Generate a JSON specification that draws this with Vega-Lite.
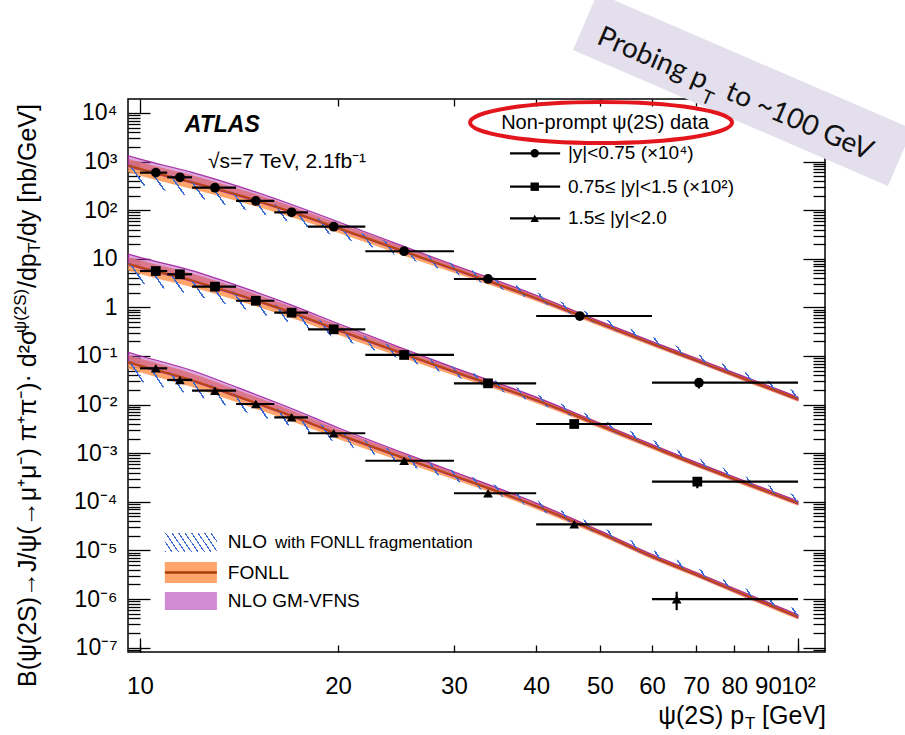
{
"$schema":"https://vega.github.io/schema/vega-lite/v6.json",
"width":697,"height":553,
"autosize":{"type":"none"},
"padding":{"left":128,"top":99,"right":80,"bottom":83},
"background":"white",
"config":{"view":{"stroke":"#000","strokeWidth":1.5},"axis":{"grid":false,"domain":false,"tickColor":"#000","tickWidth":1.3,"labelColor":"#000","labelFont":"Liberation Sans","labelOverlap":false,"labelFlush":false,"labelBound":false},"text":{"font":"Liberation Sans","color":"#000"}},
"resolve":{"axis":{"x":"independent","y":"independent"}},
"datasets":{
"theory":[
{"s":1,"pt":9.6,"c":830,"flo":601,"fhi":1145,"nlo":379,"nhi":889,"glo":793,"ghi":1316},
{"s":1,"pt":10,"c":710,"flo":514,"fhi":980,"nlo":332,"nhi":761,"glo":678,"ghi":1125},
{"s":1,"pt":12,"c":378,"flo":274,"fhi":522,"nlo":189.5,"nhi":405,"glo":361,"ghi":599},
{"s":1,"pt":14,"c":212,"flo":157,"fhi":286,"nlo":113.8,"nhi":227,"glo":202,"ghi":321},
{"s":1,"pt":17,"c":92.8,"flo":71.2,"fhi":120.9,"nlo":55.9,"nhi":102.9,"glo":88.6,"ghi":131.1},
{"s":1,"pt":20,"c":43,"flo":34.2,"fhi":54.1,"nlo":28.4,"nhi":49.4,"glo":41.1,"ghi":58.0},
{"s":1,"pt":25,"c":14.8,"flo":12.03,"fhi":18.2,"nlo":10.97,"nhi":17.8,"glo":14.13,"ghi":18.63},
{"s":1,"pt":30,"c":6.2,"flo":5.16,"fhi":7.45,"nlo":4.92,"nhi":7.81,"glo":5.92,"ghi":7.45},
{"s":1,"pt":40,"c":1.55,"flo":1.335,"fhi":1.8,"nlo":1.35,"nhi":2.04,"glo":1.48,"ghi":1.78},
{"s":1,"pt":50,"c":0.47,"flo":0.409,"fhi":0.54,"nlo":0.429,"nhi":0.634,"glo":0.449,"ghi":0.515},
{"s":1,"pt":60,"c":0.18,"flo":0.1586,"fhi":0.2043,"nlo":0.168,"nhi":0.2484,"glo":0.1719,"ghi":0.1974},
{"s":1,"pt":70,"c":0.082,"flo":0.0722,"fhi":0.0931,"nlo":0.0765,"nhi":0.1132,"glo":0.0783,"ghi":0.0899},
{"s":1,"pt":80,"c":0.041,"flo":0.0361,"fhi":0.0465,"nlo":0.0392,"nhi":0.0566,"glo":0.0392,"ghi":0.045},
{"s":1,"pt":100,"c":0.013,"flo":0.01145,"fhi":0.01476,"nlo":0.01242,"nhi":0.01794,"glo":0.01242,"ghi":0.01425},
{"s":2,"pt":9.6,"c":7.9,"flo":5.72,"fhi":10.9,"nlo":3.61,"nhi":8.46,"glo":7.54,"ghi":12.52},
{"s":2,"pt":10,"c":6.75,"flo":4.89,"fhi":9.32,"nlo":3.16,"nhi":7.23,"glo":6.45,"ghi":10.7},
{"s":2,"pt":12,"c":3.6,"flo":2.61,"fhi":4.97,"nlo":1.804,"nhi":3.86,"glo":3.44,"ghi":5.71},
{"s":2,"pt":14,"c":1.9,"flo":1.408,"fhi":2.563,"nlo":1.02,"nhi":2.036,"glo":1.815,"ghi":2.877},
{"s":2,"pt":17,"c":0.79,"flo":0.606,"fhi":1.029,"nlo":0.476,"nhi":0.876,"glo":0.754,"ghi":1.116},
{"s":2,"pt":20,"c":0.345,"flo":0.274,"fhi":0.434,"nlo":0.228,"nhi":0.396,"glo":0.329,"ghi":0.465},
{"s":2,"pt":25,"c":0.115,"flo":0.0935,"fhi":0.1415,"nlo":0.0853,"nhi":0.1382,"glo":0.1098,"ghi":0.1448},
{"s":2,"pt":30,"c":0.048,"flo":0.0399,"fhi":0.0577,"nlo":0.0381,"nhi":0.0604,"glo":0.0458,"ghi":0.0577},
{"s":2,"pt":40,"c":0.0124,"flo":0.01068,"fhi":0.0144,"nlo":0.0108,"nhi":0.01634,"glo":0.01184,"ghi":0.01424},
{"s":2,"pt":50,"c":0.00376,"flo":0.003275,"fhi":0.004316,"nlo":0.003429,"nhi":0.005072,"glo":0.003591,"ghi":0.004123},
{"s":2,"pt":60,"c":0.00137,"flo":0.001207,"fhi":0.001555,"nlo":0.001279,"nhi":0.001891,"glo":0.001308,"ghi":0.001502},
{"s":2,"pt":70,"c":0.00059,"flo":0.00052,"fhi":0.00067,"nlo":0.000551,"nhi":0.000814,"glo":0.000563,"ghi":0.000647},
{"s":2,"pt":80,"c":0.000295,"flo":0.00026,"fhi":0.000335,"nlo":0.000282,"nhi":0.000407,"glo":0.000282,"ghi":0.000323},
{"s":2,"pt":100,"c":0.000094,"flo":0.0000828,"fhi":0.0001067,"nlo":0.0000898,"nhi":0.0001297,"glo":0.0000898,"ghi":0.0001031},
{"s":3,"pt":9.6,"c":0.075,"flo":0.0543,"fhi":0.1035,"nlo":0.0343,"nhi":0.0804,"glo":0.0716,"ghi":0.1189},
{"s":3,"pt":10,"c":0.064,"flo":0.0464,"fhi":0.0883,"nlo":0.0299,"nhi":0.0686,"glo":0.0611,"ghi":0.1014},
{"s":3,"pt":12,"c":0.0317,"flo":0.02296,"fhi":0.04375,"nlo":0.01589,"nhi":0.03397,"glo":0.03027,"ghi":0.05024},
{"s":3,"pt":14,"c":0.0152,"flo":0.01127,"fhi":0.0205,"nlo":0.00816,"nhi":0.01629,"glo":0.01452,"ghi":0.02301},
{"s":3,"pt":17,"c":0.00589,"flo":0.00452,"fhi":0.007675,"nlo":0.00355,"nhi":0.00653,"glo":0.005625,"ghi":0.008323},
{"s":3,"pt":20,"c":0.00248,"flo":0.00197,"fhi":0.003122,"nlo":0.001639,"nhi":0.002847,"glo":0.002368,"ghi":0.003346},
{"s":3,"pt":25,"c":0.00083,"flo":0.000675,"fhi":0.001021,"nlo":0.000615,"nhi":0.000998,"glo":0.000793,"ghi":0.001045},
{"s":3,"pt":30,"c":0.000346,"flo":0.0002878,"fhi":0.0004159,"nlo":0.0002748,"nhi":0.0004356,"glo":0.0003304,"ghi":0.0004159},
{"s":3,"pt":40,"c":0.000082,"flo":0.0000706,"fhi":0.0000952,"nlo":0.0000714,"nhi":0.0001081,"glo":0.0000783,"ghi":0.0000941},
{"s":3,"pt":50,"c":0.000023,"flo":0.00002003,"fhi":0.0000264,"nlo":0.00002098,"nhi":0.00003103,"glo":0.00002197,"ghi":0.00002522},
{"s":3,"pt":60,"c":7.5e-6,"flo":6.61e-6,"fhi":8.51e-6,"nlo":7.0e-6,"nhi":1.035e-5,"glo":7.16e-6,"ghi":8.22e-6},
{"s":3,"pt":70,"c":3.2e-6,"flo":2.82e-6,"fhi":3.63e-6,"nlo":2.99e-6,"nhi":4.42e-6,"glo":3.06e-6,"ghi":3.51e-6},
{"s":3,"pt":80,"c":1.5e-6,"flo":1.32e-6,"fhi":1.7e-6,"nlo":1.43e-6,"nhi":2.07e-6,"glo":1.43e-6,"ghi":1.645e-6},
{"s":3,"pt":100,"c":4.3e-7,"flo":3.79e-7,"fhi":4.88e-7,"nlo":4.11e-7,"nhi":5.93e-7,"glo":4.11e-7,"ghi":4.71e-7}
],
"pts":[
{"s":1,"pt":10.57,"y":592,"xlo":10,"xhi":11},
{"s":1,"pt":11.5,"y":475,"xlo":11,"xhi":12},
{"s":1,"pt":13.0,"y":290,"xlo":12,"xhi":14},
{"s":1,"pt":15.0,"y":155,"xlo":14,"xhi":16},
{"s":1,"pt":17.0,"y":90.5,"xlo":16,"xhi":18},
{"s":1,"pt":19.7,"y":45.7,"xlo":18,"xhi":22},
{"s":1,"pt":25.2,"y":14.3,"xlo":22,"xhi":30},
{"s":1,"pt":33.8,"y":3.84,"xlo":30,"xhi":40},
{"s":1,"pt":46.6,"y":0.665,"xlo":40,"xhi":60},
{"s":1,"pt":70.7,"y":0.0282,"xlo":60,"xhi":100,"ylo":0.0214,"yhi":0.031},
{"s":2,"pt":10.57,"y":5.6,"xlo":10,"xhi":11},
{"s":2,"pt":11.5,"y":4.8,"xlo":11,"xhi":12},
{"s":2,"pt":13.0,"y":2.67,"xlo":12,"xhi":14},
{"s":2,"pt":15.0,"y":1.37,"xlo":14,"xhi":16},
{"s":2,"pt":17.0,"y":0.778,"xlo":16,"xhi":18},
{"s":2,"pt":19.7,"y":0.354,"xlo":18,"xhi":22},
{"s":2,"pt":25.2,"y":0.105,"xlo":22,"xhi":30},
{"s":2,"pt":33.8,"y":0.0274,"xlo":30,"xhi":40},
{"s":2,"pt":45.7,"y":0.00399,"xlo":40,"xhi":60},
{"s":2,"pt":70.3,"y":0.00026,"xlo":60,"xhi":100,"ylo":0.00019,"yhi":0.00029},
{"s":3,"pt":10.57,"y":0.0558,"xlo":10,"xhi":11},
{"s":3,"pt":11.5,"y":0.0321,"xlo":11,"xhi":12},
{"s":3,"pt":13.0,"y":0.0193,"xlo":12,"xhi":14},
{"s":3,"pt":15.0,"y":0.01028,"xlo":14,"xhi":16},
{"s":3,"pt":17.0,"y":0.00548,"xlo":16,"xhi":18},
{"s":3,"pt":19.7,"y":0.00257,"xlo":18,"xhi":22},
{"s":3,"pt":25.2,"y":0.0007,"xlo":22,"xhi":30},
{"s":3,"pt":33.8,"y":0.00015,"xlo":30,"xhi":40},
{"s":3,"pt":45.7,"y":0.0000344,"xlo":40,"xhi":60},
{"s":3,"pt":65.4,"y":9.9e-7,"xlo":60,"xhi":100,"ylo":5.9e-7,"yhi":1.41e-6}
],
"leg":[
{"s":1,"x1":36.5,"x2":43.5,"xm":39.8,"y":1482,"xt":44.7,"t":"|y|<0.75 (×10⁴)"},
{"s":2,"x1":36.5,"x2":43.5,"xm":39.8,"y":304.4,"xt":44.7,"t":"0.75≤ |y|<1.5 (×10²)"},
{"s":3,"x1":36.5,"x2":43.5,"xm":39.8,"y":68.1,"xt":44.7,"t":"1.5≤ |y|<2.0"}
]
},
"layer":[
{"data":{"name":"theory"},
 "mark":{"type":"area","interpolate":"monotone","fill":"#ff9a5a","fillOpacity":0.9},
 "encoding":{
  "x":{"field":"pt","type":"quantitative","scale":{"type":"log","domain":[9.59,109.9],"nice":false},"axis":{"orient":"bottom","values":[10,20,30,40,50,60,70,80,90,100],"tickSize":-7,"labelFontSize":24,"labelPadding":29,"labelExpr":"datum.value == 100 ? '10²' : '' + datum.value","title":null}},
  "y":{"field":"flo","type":"quantitative","scale":{"type":"log","domain":[8.12e-8,19400],"nice":false},"axis":{"orient":"left","values":[1e-7,0.000001,0.00001,0.0001,0.001,0.01,0.1,1,10,100,1000,10000],"tickSize":-22,"labelFontSize":23,"labelPadding":33,"labelExpr":"datum.value == 10000 ? '10⁴' : datum.value == 1000 ? '10³' : datum.value == 100 ? '10²' : datum.value == 10 ? '10' : datum.value == 1 ? '1' : datum.value == 0.1 ? '10⁻¹' : datum.value == 0.01 ? '10⁻²' : datum.value == 0.001 ? '10⁻³' : datum.value == 0.0001 ? '10⁻⁴' : datum.value == 0.00001 ? '10⁻⁵' : datum.value == 0.000001 ? '10⁻⁶' : '10⁻⁷'","title":null}},
  "y2":{"field":"fhi"},
  "detail":{"field":"s","type":"nominal"}}},
{"data":{"name":"theory"},
 "mark":{"type":"area","interpolate":"monotone","fill":"#b23db4","fillOpacity":0.45,"stroke":"#a0209e","strokeWidth":1.2,"strokeOpacity":0.9},
 "encoding":{
  "x":{"field":"pt","type":"quantitative","scale":{"type":"log","domain":[9.59,109.9],"nice":false},"axis":{"orient":"bottom","values":[10,100],"tickSize":-14,"labels":false,"title":null}},
  "y":{"field":"glo","type":"quantitative","scale":{"type":"log","domain":[8.12e-8,19400],"nice":false},"axis":{"orient":"left","values":[9e-8,2e-7,3e-7,4e-7,5e-7,6e-7,7e-7,8e-7,9e-7,2e-6,3e-6,4e-6,5e-6,6e-6,7e-6,8e-6,9e-6,2e-5,3e-5,4e-5,5e-5,6e-5,7e-5,8e-5,9e-5,0.0002,0.0003,0.0004,0.0005,0.0006,0.0007,0.0008,0.0009,0.002,0.003,0.004,0.005,0.006,0.007,0.008,0.009,0.02,0.03,0.04,0.05,0.06,0.07,0.08,0.09,0.2,0.3,0.4,0.5,0.6,0.7,0.8,0.9,2,3,4,5,6,7,8,9,20,30,40,50,60,70,80,90,200,300,400,500,600,700,800,900,2000,3000,4000,5000,6000,7000,8000,9000],"tickSize":-12,"labels":false,"title":null}},
  "y2":{"field":"ghi"},
  "detail":{"field":"s","type":"nominal"}}},
{"data":{"name":"theory"},
 "mark":{"type":"area","interpolate":"monotone","fill":{"gradient":"linear","x1":0,"y1":1,"x2":1.176,"y2":0.706,"stops":[
{"offset":0,"color":"#3a6ad6"},{"offset":0.0022,"color":"#3a6ad6"},{"offset":0.0022,"color":"transparent"},{"offset":0.02,"color":"transparent"},
{"offset":0.02,"color":"#3a6ad6"},{"offset":0.0222,"color":"#3a6ad6"},{"offset":0.0222,"color":"transparent"},{"offset":0.04,"color":"transparent"},
{"offset":0.04,"color":"#3a6ad6"},{"offset":0.0422,"color":"#3a6ad6"},{"offset":0.0422,"color":"transparent"},{"offset":0.06,"color":"transparent"},
{"offset":0.06,"color":"#3a6ad6"},{"offset":0.0622,"color":"#3a6ad6"},{"offset":0.0622,"color":"transparent"},{"offset":0.08,"color":"transparent"},
{"offset":0.08,"color":"#3a6ad6"},{"offset":0.0822,"color":"#3a6ad6"},{"offset":0.0822,"color":"transparent"},{"offset":0.1,"color":"transparent"},
{"offset":0.1,"color":"#3a6ad6"},{"offset":0.1022,"color":"#3a6ad6"},{"offset":0.1022,"color":"transparent"},{"offset":0.12,"color":"transparent"},
{"offset":0.12,"color":"#3a6ad6"},{"offset":0.1222,"color":"#3a6ad6"},{"offset":0.1222,"color":"transparent"},{"offset":0.14,"color":"transparent"},
{"offset":0.14,"color":"#3a6ad6"},{"offset":0.1422,"color":"#3a6ad6"},{"offset":0.1422,"color":"transparent"},{"offset":0.16,"color":"transparent"},
{"offset":0.16,"color":"#3a6ad6"},{"offset":0.1622,"color":"#3a6ad6"},{"offset":0.1622,"color":"transparent"},{"offset":0.18,"color":"transparent"},
{"offset":0.18,"color":"#3a6ad6"},{"offset":0.1822,"color":"#3a6ad6"},{"offset":0.1822,"color":"transparent"},{"offset":0.2,"color":"transparent"},
{"offset":0.2,"color":"#3a6ad6"},{"offset":0.2022,"color":"#3a6ad6"},{"offset":0.2022,"color":"transparent"},{"offset":0.22,"color":"transparent"},
{"offset":0.22,"color":"#3a6ad6"},{"offset":0.2222,"color":"#3a6ad6"},{"offset":0.2222,"color":"transparent"},{"offset":0.24,"color":"transparent"},
{"offset":0.24,"color":"#3a6ad6"},{"offset":0.2422,"color":"#3a6ad6"},{"offset":0.2422,"color":"transparent"},{"offset":0.26,"color":"transparent"},
{"offset":0.26,"color":"#3a6ad6"},{"offset":0.2622,"color":"#3a6ad6"},{"offset":0.2622,"color":"transparent"},{"offset":0.28,"color":"transparent"},
{"offset":0.28,"color":"#3a6ad6"},{"offset":0.2822,"color":"#3a6ad6"},{"offset":0.2822,"color":"transparent"},{"offset":0.3,"color":"transparent"},
{"offset":0.3,"color":"#3a6ad6"},{"offset":0.3022,"color":"#3a6ad6"},{"offset":0.3022,"color":"transparent"},{"offset":0.32,"color":"transparent"},
{"offset":0.32,"color":"#3a6ad6"},{"offset":0.3222,"color":"#3a6ad6"},{"offset":0.3222,"color":"transparent"},{"offset":0.34,"color":"transparent"},
{"offset":0.34,"color":"#3a6ad6"},{"offset":0.3422,"color":"#3a6ad6"},{"offset":0.3422,"color":"transparent"},{"offset":0.36,"color":"transparent"},
{"offset":0.36,"color":"#3a6ad6"},{"offset":0.3622,"color":"#3a6ad6"},{"offset":0.3622,"color":"transparent"},{"offset":0.38,"color":"transparent"},
{"offset":0.38,"color":"#3a6ad6"},{"offset":0.3822,"color":"#3a6ad6"},{"offset":0.3822,"color":"transparent"},{"offset":0.4,"color":"transparent"},
{"offset":0.4,"color":"#3a6ad6"},{"offset":0.4022,"color":"#3a6ad6"},{"offset":0.4022,"color":"transparent"},{"offset":0.42,"color":"transparent"},
{"offset":0.42,"color":"#3a6ad6"},{"offset":0.4222,"color":"#3a6ad6"},{"offset":0.4222,"color":"transparent"},{"offset":0.44,"color":"transparent"},
{"offset":0.44,"color":"#3a6ad6"},{"offset":0.4422,"color":"#3a6ad6"},{"offset":0.4422,"color":"transparent"},{"offset":0.46,"color":"transparent"},
{"offset":0.46,"color":"#3a6ad6"},{"offset":0.4622,"color":"#3a6ad6"},{"offset":0.4622,"color":"transparent"},{"offset":0.48,"color":"transparent"},
{"offset":0.48,"color":"#3a6ad6"},{"offset":0.4822,"color":"#3a6ad6"},{"offset":0.4822,"color":"transparent"},{"offset":0.5,"color":"transparent"},
{"offset":0.5,"color":"#3a6ad6"},{"offset":0.5022,"color":"#3a6ad6"},{"offset":0.5022,"color":"transparent"},{"offset":0.52,"color":"transparent"},
{"offset":0.52,"color":"#3a6ad6"},{"offset":0.5222,"color":"#3a6ad6"},{"offset":0.5222,"color":"transparent"},{"offset":0.54,"color":"transparent"},
{"offset":0.54,"color":"#3a6ad6"},{"offset":0.5422,"color":"#3a6ad6"},{"offset":0.5422,"color":"transparent"},{"offset":0.56,"color":"transparent"},
{"offset":0.56,"color":"#3a6ad6"},{"offset":0.5622,"color":"#3a6ad6"},{"offset":0.5622,"color":"transparent"},{"offset":0.58,"color":"transparent"},
{"offset":0.58,"color":"#3a6ad6"},{"offset":0.5822,"color":"#3a6ad6"},{"offset":0.5822,"color":"transparent"},{"offset":0.6,"color":"transparent"},
{"offset":0.6,"color":"#3a6ad6"},{"offset":0.6022,"color":"#3a6ad6"},{"offset":0.6022,"color":"transparent"},{"offset":0.62,"color":"transparent"},
{"offset":0.62,"color":"#3a6ad6"},{"offset":0.6222,"color":"#3a6ad6"},{"offset":0.6222,"color":"transparent"},{"offset":0.64,"color":"transparent"},
{"offset":0.64,"color":"#3a6ad6"},{"offset":0.6422,"color":"#3a6ad6"},{"offset":0.6422,"color":"transparent"},{"offset":0.66,"color":"transparent"},
{"offset":0.66,"color":"#3a6ad6"},{"offset":0.6622,"color":"#3a6ad6"},{"offset":0.6622,"color":"transparent"},{"offset":0.68,"color":"transparent"},
{"offset":0.68,"color":"#3a6ad6"},{"offset":0.6822,"color":"#3a6ad6"},{"offset":0.6822,"color":"transparent"},{"offset":0.7,"color":"transparent"},
{"offset":0.7,"color":"#3a6ad6"},{"offset":0.7022,"color":"#3a6ad6"},{"offset":0.7022,"color":"transparent"},{"offset":0.72,"color":"transparent"},
{"offset":0.72,"color":"#3a6ad6"},{"offset":0.7222,"color":"#3a6ad6"},{"offset":0.7222,"color":"transparent"},{"offset":0.74,"color":"transparent"},
{"offset":0.74,"color":"#3a6ad6"},{"offset":0.7422,"color":"#3a6ad6"},{"offset":0.7422,"color":"transparent"},{"offset":0.76,"color":"transparent"},
{"offset":0.76,"color":"#3a6ad6"},{"offset":0.7622,"color":"#3a6ad6"},{"offset":0.7622,"color":"transparent"},{"offset":0.78,"color":"transparent"},
{"offset":0.78,"color":"#3a6ad6"},{"offset":0.7822,"color":"#3a6ad6"},{"offset":0.7822,"color":"transparent"},{"offset":0.8,"color":"transparent"},
{"offset":0.8,"color":"#3a6ad6"},{"offset":0.8022,"color":"#3a6ad6"},{"offset":0.8022,"color":"transparent"},{"offset":0.82,"color":"transparent"},
{"offset":0.82,"color":"#3a6ad6"},{"offset":0.8222,"color":"#3a6ad6"},{"offset":0.8222,"color":"transparent"},{"offset":0.84,"color":"transparent"},
{"offset":0.84,"color":"#3a6ad6"},{"offset":0.8422,"color":"#3a6ad6"},{"offset":0.8422,"color":"transparent"},{"offset":0.86,"color":"transparent"},
{"offset":0.86,"color":"#3a6ad6"},{"offset":0.8622,"color":"#3a6ad6"},{"offset":0.8622,"color":"transparent"},{"offset":0.88,"color":"transparent"},
{"offset":0.88,"color":"#3a6ad6"},{"offset":0.8822,"color":"#3a6ad6"},{"offset":0.8822,"color":"transparent"},{"offset":0.9,"color":"transparent"},
{"offset":0.9,"color":"#3a6ad6"},{"offset":0.9022,"color":"#3a6ad6"},{"offset":0.9022,"color":"transparent"},{"offset":0.92,"color":"transparent"},
{"offset":0.92,"color":"#3a6ad6"},{"offset":0.9222,"color":"#3a6ad6"},{"offset":0.9222,"color":"transparent"},{"offset":0.94,"color":"transparent"},
{"offset":0.94,"color":"#3a6ad6"},{"offset":0.9422,"color":"#3a6ad6"},{"offset":0.9422,"color":"transparent"},{"offset":0.96,"color":"transparent"},
{"offset":0.96,"color":"#3a6ad6"},{"offset":0.9622,"color":"#3a6ad6"},{"offset":0.9622,"color":"transparent"},{"offset":0.98,"color":"transparent"},
{"offset":0.98,"color":"#3a6ad6"},{"offset":0.9822,"color":"#3a6ad6"},{"offset":0.9822,"color":"transparent"},{"offset":1,"color":"transparent"}
]}},
 "encoding":{
  "x":{"field":"pt","type":"quantitative","scale":{"type":"log","domain":[9.59,109.9],"nice":false},"axis":{"orient":"top","values":[20,30,40,50,60,70,80,90],"tickSize":-7,"labels":false,"title":null}},
  "y":{"field":"nlo","type":"quantitative","scale":{"type":"log","domain":[8.12e-8,19400],"nice":false},"axis":{"orient":"right","values":[1e-7,0.000001,0.00001,0.0001,0.001,0.01,0.1,1,10,100,1000,10000],"tickSize":-22,"labels":false,"title":null}},
  "y2":{"field":"nhi"},
  "detail":{"field":"s","type":"nominal"}}},
{"data":{"name":"theory"},
 "mark":{"type":"line","interpolate":"monotone","color":"#b8460e","strokeWidth":2},
 "encoding":{
  "x":{"field":"pt","type":"quantitative","scale":{"type":"log","domain":[9.59,109.9],"nice":false},"axis":{"orient":"top","values":[10,100],"tickSize":-14,"labels":false,"title":null}},
  "y":{"field":"c","type":"quantitative","scale":{"type":"log","domain":[8.12e-8,19400],"nice":false},"axis":{"orient":"right","values":[9e-8,2e-7,3e-7,4e-7,5e-7,6e-7,7e-7,8e-7,9e-7,2e-6,3e-6,4e-6,5e-6,6e-6,7e-6,8e-6,9e-6,2e-5,3e-5,4e-5,5e-5,6e-5,7e-5,8e-5,9e-5,0.0002,0.0003,0.0004,0.0005,0.0006,0.0007,0.0008,0.0009,0.002,0.003,0.004,0.005,0.006,0.007,0.008,0.009,0.02,0.03,0.04,0.05,0.06,0.07,0.08,0.09,0.2,0.3,0.4,0.5,0.6,0.7,0.8,0.9,2,3,4,5,6,7,8,9,20,30,40,50,60,70,80,90,200,300,400,500,600,700,800,900,2000,3000,4000,5000,6000,7000,8000,9000],"tickSize":-12,"labels":false,"title":null}},
  "detail":{"field":"s","type":"nominal"}}},
{"data":{"name":"pts"},
 "mark":{"type":"rule","color":"#000","strokeWidth":2.2},
 "encoding":{"x":{"field":"xlo","type":"quantitative","scale":{"type":"log","domain":[9.59,109.9],"nice":false},"axis":null},"x2":{"field":"xhi"},"y":{"field":"y","type":"quantitative","scale":{"type":"log","domain":[8.12e-8,19400],"nice":false},"axis":null}}},
{"data":{"name":"pts"},
 "mark":{"type":"rule","color":"#000","strokeWidth":2.2},
 "encoding":{"x":{"field":"pt","type":"quantitative","scale":{"type":"log","domain":[9.59,109.9],"nice":false},"axis":null},"y":{"field":"ylo","type":"quantitative","scale":{"type":"log","domain":[8.12e-8,19400],"nice":false},"axis":null},"y2":{"field":"yhi"}}},
{"data":{"name":"pts"},
 "mark":{"type":"point","filled":true,"color":"#000","size":95,"opacity":1},
 "encoding":{"x":{"field":"pt","type":"quantitative","scale":{"type":"log","domain":[9.59,109.9],"nice":false},"axis":null},"y":{"field":"y","type":"quantitative","scale":{"type":"log","domain":[8.12e-8,19400],"nice":false},"axis":null},
  "shape":{"field":"s","type":"nominal","scale":{"domain":[1,2,3],"range":["circle","square","triangle-up"]},"legend":null}}},
{"data":{"name":"leg"},
 "mark":{"type":"rule","color":"#000","strokeWidth":2.2,"clip":false},
 "encoding":{"x":{"field":"x1","type":"quantitative","scale":{"type":"log","domain":[9.59,109.9],"nice":false},"axis":null},"x2":{"field":"x2"},"y":{"field":"y","type":"quantitative","scale":{"type":"log","domain":[8.12e-8,19400],"nice":false},"axis":null}}},
{"data":{"name":"leg"},
 "mark":{"type":"point","filled":true,"color":"#000","size":70,"opacity":1,"clip":false},
 "encoding":{"x":{"field":"xm","type":"quantitative","scale":{"type":"log","domain":[9.59,109.9],"nice":false},"axis":null},"y":{"field":"y","type":"quantitative","scale":{"type":"log","domain":[8.12e-8,19400],"nice":false},"axis":null},
  "shape":{"field":"s","type":"nominal","scale":{"domain":[1,2,3],"range":["circle","square","triangle-up"]},"legend":null}}},
{"data":{"name":"leg"},
 "mark":{"type":"text","align":"left","baseline":"middle","fontSize":19,"clip":false},
 "encoding":{"x":{"field":"xt","type":"quantitative","scale":{"type":"log","domain":[9.59,109.9],"nice":false},"axis":null},"y":{"field":"y","type":"quantitative","scale":{"type":"log","domain":[8.12e-8,19400],"nice":false},"axis":null},"text":{"field":"t"}}},
{"data":{"values":[{"x":50.9,"y":6227,"t":"Non-prompt ψ(2S) data"}]},
 "mark":{"type":"text","align":"center","baseline":"middle","fontSize":20,"clip":false},
 "encoding":{"x":{"field":"x","type":"quantitative","scale":{"type":"log","domain":[9.59,109.9],"nice":false},"axis":null},"y":{"field":"y","type":"quantitative","scale":{"type":"log","domain":[8.12e-8,19400],"nice":false},"axis":null},"text":{"field":"t"}}},
{"data":{"values":[{"x":11.7,"y":5663,"t":"ATLAS"}]},
 "mark":{"type":"text","align":"left","baseline":"middle","fontSize":23,"fontWeight":"bold","fontStyle":"italic","clip":false},
 "encoding":{"x":{"field":"x","type":"quantitative","scale":{"type":"log","domain":[9.59,109.9],"nice":false},"axis":null},"y":{"field":"y","type":"quantitative","scale":{"type":"log","domain":[8.12e-8,19400],"nice":false},"axis":null},"text":{"field":"t"}}},
{"data":{"values":[{"x":12.69,"y":981,"t":"√s=7 TeV, 2.1fb⁻¹"}]},
 "mark":{"type":"text","align":"left","baseline":"middle","fontSize":21,"clip":false},
 "encoding":{"x":{"field":"x","type":"quantitative","scale":{"type":"log","domain":[9.59,109.9],"nice":false},"axis":null},"y":{"field":"y","type":"quantitative","scale":{"type":"log","domain":[8.12e-8,19400],"nice":false},"axis":null},"text":{"field":"t"}}},
{"data":{"values":[{"x1":10.91,"x2":13.09,"y1":2.28e-5,"y2":9.27e-6}]},
 "mark":{"type":"rect","clip":false,"fill":{"gradient":"linear","x1":0,"y1":1,"x2":1.176,"y2":0.706,"stops":[
{"offset":0,"color":"#3a6ad6"},{"offset":0.02,"color":"#3a6ad6"},{"offset":0.02,"color":"transparent"},{"offset":0.1,"color":"transparent"},
{"offset":0.1,"color":"#3a6ad6"},{"offset":0.12,"color":"#3a6ad6"},{"offset":0.12,"color":"transparent"},{"offset":0.2,"color":"transparent"},
{"offset":0.2,"color":"#3a6ad6"},{"offset":0.22,"color":"#3a6ad6"},{"offset":0.22,"color":"transparent"},{"offset":0.3,"color":"transparent"},
{"offset":0.3,"color":"#3a6ad6"},{"offset":0.32,"color":"#3a6ad6"},{"offset":0.32,"color":"transparent"},{"offset":0.4,"color":"transparent"},
{"offset":0.4,"color":"#3a6ad6"},{"offset":0.42,"color":"#3a6ad6"},{"offset":0.42,"color":"transparent"},{"offset":0.5,"color":"transparent"},
{"offset":0.5,"color":"#3a6ad6"},{"offset":0.52,"color":"#3a6ad6"},{"offset":0.52,"color":"transparent"},{"offset":0.6,"color":"transparent"},
{"offset":0.6,"color":"#3a6ad6"},{"offset":0.62,"color":"#3a6ad6"},{"offset":0.62,"color":"transparent"},{"offset":0.7,"color":"transparent"},
{"offset":0.7,"color":"#3a6ad6"},{"offset":0.72,"color":"#3a6ad6"},{"offset":0.72,"color":"transparent"},{"offset":0.8,"color":"transparent"},
{"offset":0.8,"color":"#3a6ad6"},{"offset":0.82,"color":"#3a6ad6"},{"offset":0.82,"color":"transparent"},{"offset":0.9,"color":"transparent"},
{"offset":0.9,"color":"#3a6ad6"},{"offset":0.92,"color":"#3a6ad6"},{"offset":0.92,"color":"transparent"},{"offset":1,"color":"transparent"}
]}},
 "encoding":{"x":{"field":"x1","type":"quantitative","scale":{"type":"log","domain":[9.59,109.9],"nice":false},"axis":null},"x2":{"field":"x2"},"y":{"field":"y1","type":"quantitative","scale":{"type":"log","domain":[8.12e-8,19400],"nice":false},"axis":null},"y2":{"field":"y2"}}},
{"data":{"values":[{"x1":10.91,"x2":13.09,"y1":5.77e-6,"y2":2.13e-6}]},
 "mark":{"type":"rect","clip":false,"fill":"#ff9a5a","fillOpacity":0.9},
 "encoding":{"x":{"field":"x1","type":"quantitative","scale":{"type":"log","domain":[9.59,109.9],"nice":false},"axis":null},"x2":{"field":"x2"},"y":{"field":"y1","type":"quantitative","scale":{"type":"log","domain":[8.12e-8,19400],"nice":false},"axis":null},"y2":{"field":"y2"}}},
{"data":{"values":[{"x1":10.91,"x2":13.09,"y":3.51e-6}]},
 "mark":{"type":"rule","clip":false,"color":"#a63d0c","strokeWidth":2.5},
 "encoding":{"x":{"field":"x1","type":"quantitative","scale":{"type":"log","domain":[9.59,109.9],"nice":false},"axis":null},"x2":{"field":"x2"},"y":{"field":"y","type":"quantitative","scale":{"type":"log","domain":[8.12e-8,19400],"nice":false},"axis":null}}},
{"data":{"values":[{"x1":10.91,"x2":13.09,"y1":1.39e-6,"y2":5.94e-7}]},
 "mark":{"type":"rect","clip":false,"fill":"#b23db4","fillOpacity":0.6},
 "encoding":{"x":{"field":"x1","type":"quantitative","scale":{"type":"log","domain":[9.59,109.9],"nice":false},"axis":null},"x2":{"field":"x2"},"y":{"field":"y1","type":"quantitative","scale":{"type":"log","domain":[8.12e-8,19400],"nice":false},"axis":null},"y2":{"field":"y2"}}},
{"data":{"values":[{"x":13.6,"y":1.49e-5,"t":"NLO"},{"x":13.6,"y":3.51e-6,"t":"FONLL"},{"x":13.6,"y":9.1e-7,"t":"NLO GM-VFNS"}]},
 "mark":{"type":"text","align":"left","baseline":"middle","fontSize":19,"clip":false},
 "encoding":{"x":{"field":"x","type":"quantitative","scale":{"type":"log","domain":[9.59,109.9],"nice":false},"axis":null},"y":{"field":"y","type":"quantitative","scale":{"type":"log","domain":[8.12e-8,19400],"nice":false},"axis":null},"text":{"field":"t"}}},
{"data":{"values":[{"x":16.04,"y":1.42e-5,"t":"with FONLL fragmentation"}]},
 "mark":{"type":"text","align":"left","baseline":"middle","fontSize":17,"clip":false},
 "encoding":{"x":{"field":"x","type":"quantitative","scale":{"type":"log","domain":[9.59,109.9],"nice":false},"axis":null},"y":{"field":"y","type":"quantitative","scale":{"type":"log","domain":[8.12e-8,19400],"nice":false},"axis":null},"text":{"field":"t"}}},
{"data":{"values":[{"x":82.8,"y":3.92e-9,"t":"ψ(2S) p"},{"x":110.3,"y":3.92e-9,"t":"[GeV]"}]},
 "mark":{"type":"text","align":"right","baseline":"middle","fontSize":25,"clip":false},
 "encoding":{"x":{"field":"x","type":"quantitative","scale":{"type":"log","domain":[9.59,109.9],"nice":false},"axis":null},"y":{"field":"y","type":"quantitative","scale":{"type":"log","domain":[8.12e-8,19400],"nice":false},"axis":null},"text":{"field":"t"}}},
{"data":{"values":[{"x":83.1,"y":2.68e-9,"t":"T"}]},
 "mark":{"type":"text","align":"left","baseline":"middle","fontSize":17,"clip":false},
 "encoding":{"x":{"field":"x","type":"quantitative","scale":{"type":"log","domain":[9.59,109.9],"nice":false},"axis":null},"y":{"field":"y","type":"quantitative","scale":{"type":"log","domain":[8.12e-8,19400],"nice":false},"axis":null},"text":{"field":"t"}}},
{"data":{"values":[{"x":6.757,"y":1.546e-8,"t":"B(ψ(2S)→J/ψ(→μ⁺μ⁻) π⁺π⁻)· d²σ"},{"x":6.757,"y":2.507,"t":"/dp"},{"x":6.757,"y":21.14,"t":"/dy [nb/GeV]"}]},
 "mark":{"type":"text","align":"left","baseline":"middle","angle":270,"fontSize":25,"clip":false},
 "encoding":{"x":{"field":"x","type":"quantitative","scale":{"type":"log","domain":[9.59,109.9],"nice":false},"axis":null},"y":{"field":"y","type":"quantitative","scale":{"type":"log","domain":[8.12e-8,19400],"nice":false},"axis":null},"text":{"field":"t"}}},
{"data":{"values":[{"x":6.595,"y":0.2974,"t":"ψ(2S)"},{"x":6.923,"y":13.16,"t":"T"}]},
 "mark":{"type":"text","align":"left","baseline":"middle","angle":270,"fontSize":17,"clip":false},
 "encoding":{"x":{"field":"x","type":"quantitative","scale":{"type":"log","domain":[9.59,109.9],"nice":false},"axis":null},"y":{"field":"y","type":"quantitative","scale":{"type":"log","domain":[8.12e-8,19400],"nice":false},"axis":null},"text":{"field":"t"}}},
{"data":{"values":[{"x1":47.5,"y1":763000,"x2":143,"y2":1214}]},
 "mark":{"type":"rule","clip":false,"color":"#e3dfed","strokeWidth":62,"strokeCap":"butt"},
 "encoding":{"x":{"field":"x1","type":"quantitative","scale":{"type":"log","domain":[9.59,109.9],"nice":false},"axis":null},"x2":{"field":"x2"},"y":{"field":"y1","type":"quantitative","scale":{"type":"log","domain":[8.12e-8,19400],"nice":false},"axis":null},"y2":{"field":"y2"}}},
{"data":{"values":[{"x":49.8,"y":384000,"t":"Probing p"},{"x":78.0,"y":28400,"t":"to ~100 GeV"}]},
 "mark":{"type":"text","align":"left","baseline":"middle","angle":23.3,"font":"Lato","fontSize":28,"color":"#111","clip":false},
 "encoding":{"x":{"field":"x","type":"quantitative","scale":{"type":"log","domain":[9.59,109.9],"nice":false},"axis":null},"y":{"field":"y","type":"quantitative","scale":{"type":"log","domain":[8.12e-8,19400],"nice":false},"axis":null},"text":{"field":"t"}}},
{"data":{"values":[{"x":71.5,"y":22400,"t":"T"}]},
 "mark":{"type":"text","align":"left","baseline":"middle","angle":23.3,"font":"Lato","fontSize":19,"color":"#111","clip":false},
 "encoding":{"x":{"field":"x","type":"quantitative","scale":{"type":"log","domain":[9.59,109.9],"nice":false},"axis":null},"y":{"field":"y","type":"quantitative","scale":{"type":"log","domain":[8.12e-8,19400],"nice":false},"axis":null},"text":{"field":"t"}}},
{"data":{"values":[{"x":50.2,"y":6375}]},
 "mark":{"type":"point","shape":"M-1,0A1,0.1565,0,1,0,1,0A1,0.1565,0,1,0,-1,0Z","size":68644,"filled":false,"stroke":"#e3161d","strokeWidth":4,"opacity":1,"clip":false},
 "encoding":{"x":{"field":"x","type":"quantitative","scale":{"type":"log","domain":[9.59,109.9],"nice":false},"axis":null},"y":{"field":"y","type":"quantitative","scale":{"type":"log","domain":[8.12e-8,19400],"nice":false},"axis":null}}}
]
}
